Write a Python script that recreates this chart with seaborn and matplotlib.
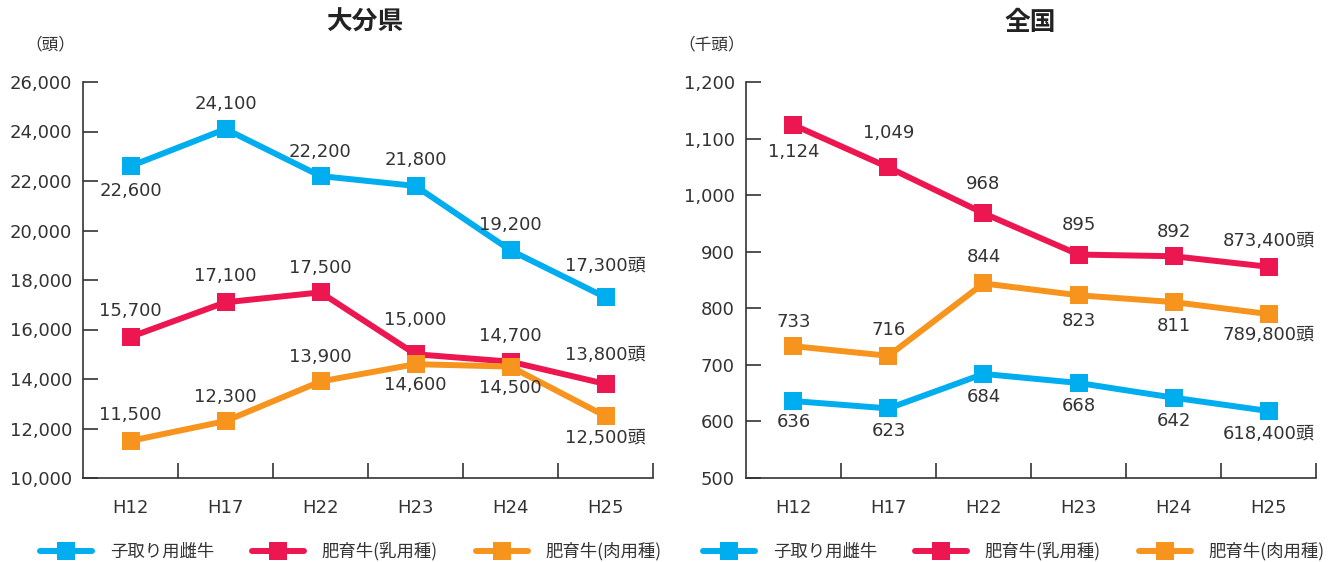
import matplotlib
matplotlib.use('Agg')
import matplotlib.pyplot as plt
from matplotlib.lines import Line2D
from matplotlib.ticker import FuncFormatter
import seaborn as sns
import pandas as pd

# data
years = ['H12', 'H17', 'H22', 'H23', 'H24', 'H25']
series_names = ['子取り用雌牛', '肥育牛(乳用種)', '肥育牛(肉用種)']

oita_kodori = [22600, 24100, 22200, 21800, 19200, 17300]
oita_nyuyo = [15700, 17100, 17500, 15000, 14700, 13800]
oita_nikuyo = [11500, 12300, 13900, 14600, 14500, 12500]

# 全国 in 千頭
zenkoku_kodori = [636, 623, 684, 668, 642, 618.4]
zenkoku_nyuyo = [1124, 1049, 968, 895, 892, 873.4]
zenkoku_nikuyo = [733, 716, 844, 823, 811, 789.8]

colors = {
    '子取り用雌牛': '#00AEEF',
    '肥育牛(乳用種)': '#EC1651',
    '肥育牛(肉用種)': '#F7941D',
}

# where each value label sits relative to its point (pixels)
oita_place = {
    '子取り用雌牛': [-25, 25, 24, 26, 25, 31],
    '肥育牛(乳用種)': [26, 26, 24, 34, 26, 29],
    '肥育牛(肉用種)': [26, 24, 24, -21, -21, -22],
}
zenkoku_place = {
    '子取り用雌牛': [-21, -23, -23, -23, -23, -23],
    '肥育牛(乳用種)': [-27, 34, 29, 30, 24, 26],
    '肥育牛(肉用種)': [24, 26, 26, -26, -24, -21],
}


def make_df(values):
    rows = []
    for name, vals in zip(series_names, values):
        for y, v in zip(years, vals):
            rows.append({'year': y, 'value': v, 'series': name})
    return pd.DataFrame(rows)


sns.set_theme(style='ticks')
plt.rcParams['font.family'] = ['DejaVu Sans', 'Noto Sans CJK JP']
TXT = '#333333'
plt.rcParams['text.color'] = TXT

W, H = 1339, 562
fig = plt.figure(figsize=(W / 100, H / 100), dpi=100)
px = 72 / 100  # pixels -> points


def draw(left, values, place, ylim, ystep, unit_mult, title, unit, title_x, unit_x):
    ax = fig.add_axes([left / W, (H - 478) / H, 570 / W, 396 / H])
    df = make_df(values)
    sns.pointplot(data=df, x='year', y='value', hue='series', order=years,
                  hue_order=series_names, palette=colors, markers='s',
                  linestyles='-', errorbar=None, legend=False, ax=ax,
                  markersize=12.5, linewidth=4.3, markeredgewidth=0)

    for name, vals in zip(series_names, values):
        for i, v in enumerate(vals):
            if i == len(vals) - 1:
                txt = f'{v * unit_mult:,.0f}頭'
            else:
                txt = f'{v:,.0f}'
            ax.annotate(txt, (i, v), xytext=(0, place[name][i] * px),
                        textcoords='offset points', ha='center', va='center',
                        fontsize=13, color=TXT)

    ax.set_xlim(-0.5, 5.5)
    ax.set_ylim(*ylim)
    ax.set_yticks(range(ylim[0], ylim[1] + 1, ystep))
    ax.yaxis.set_major_formatter(FuncFormatter(lambda v, p: f'{v:,.0f}'))
    ax.set_xticks(range(len(years)))
    ax.set_xticklabels(years)
    ax.set_xticks([i + 0.5 for i in range(len(years))], minor=True)
    ax.tick_params(axis='x', which='major', length=0, pad=15, labelsize=13, colors=TXT)
    ax.tick_params(axis='x', which='minor', direction='in', length=11, width=1.2, color=TXT)
    ax.tick_params(axis='y', direction='in', length=11, width=1.2, pad=8,
                   labelsize=13, colors=TXT)
    ax.set_xlabel('')
    ax.set_ylabel('')
    sns.despine(ax=ax)
    for s in ['left', 'bottom']:
        ax.spines[s].set_color(TXT)
        ax.spines[s].set_linewidth(1.2)

    handles = [Line2D([], [], color=colors[n], lw=4.3, marker='s', markersize=12.5,
                      markeredgewidth=0) for n in series_names]
    leg = ax.legend(handles, series_names, loc='center', bbox_to_anchor=(0.47, -0.185),
                    ncol=3, frameon=False, handlelength=3.0,
                    handletextpad=1.0, columnspacing=2.2,
                    prop={'family': ['Noto Sans CJK JP'], 'size': 12.5})

    fig.text(title_x / W, 1 - 22 / H, title, ha='center', va='center',
             fontsize=18.5, fontweight='bold', color='#222222',
             family=['Noto Sans CJK JP'])
    fig.text(unit_x / W, 1 - 45 / H, unit, ha='center', va='center',
             fontsize=12, color=TXT, family=['Noto Sans CJK JP'])


draw(83, [oita_kodori, oita_nyuyo, oita_nikuyo], oita_place,
     (10000, 26000), 2000, 1, '大分県', '（頭）', 365, 50)
draw(746, [zenkoku_kodori, zenkoku_nyuyo, zenkoku_nikuyo], zenkoku_place,
     (500, 1200), 100, 1000, '全国', '（千頭）', 1030, 712)

fig.savefig('out.png', dpi=100)
